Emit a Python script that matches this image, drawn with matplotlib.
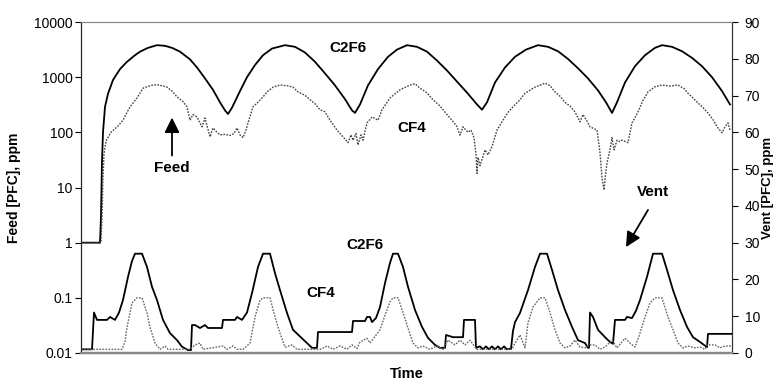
import matplotlib
matplotlib.use("Agg")
import matplotlib.pyplot as plt
from matplotlib.ticker import FixedLocator, FixedFormatter

plt.rcParams['font.family'] = ['Liberation Sans', 'DejaVu Sans']

# ---- Feed (left, log axis), ppm ----
feed_c2f6_t = [0, 19, 20, 21, 22, 24, 27, 32, 39, 46, 54, 59, 67, 76, 84, 91, 99, 109, 116, 124, 132, 139, 144, 147,
               151, 159, 166, 174, 182, 191, 204, 214, 224, 234, 244, 254, 264, 271, 274, 279, 287, 297, 307, 316,
               326, 336, 346, 356, 366, 376, 386, 396, 401, 406, 414, 424, 434, 445, 457, 467, 477, 487, 497, 507,
               517, 525, 531, 536, 544, 554, 564, 574, 581, 591, 601, 611, 621, 631, 641, 649]
feed_c2f6 = [1, 1, 3, 30, 100, 290, 500, 890, 1400, 1900, 2500, 2900, 3400, 3800, 3700, 3400, 2900, 2100, 1500, 950,
             590, 350, 250, 215, 280, 560, 1000, 1660, 2500, 3300, 3800, 3550, 2800, 1900, 1170, 710, 400, 250, 225,
             320, 710, 1400, 2340, 3160, 3800, 3550, 2900, 2000, 1320, 830, 525, 320, 257, 350, 800, 1500, 2340,
             3160, 3800, 3550, 2950, 2140, 1450, 950, 575, 350, 225, 350, 800, 1580, 2500, 3400, 3800, 3550, 2950,
             2240, 1580, 1000, 560, 320]

feed_cf4_t = [0, 20, 21, 22, 23, 25, 30, 37, 42, 46, 49, 56, 62, 67, 72, 76, 81, 86, 91, 96, 102, 106, 109, 112,
              116, 121, 124, 129, 132, 136, 139, 144, 149, 153, 156, 159, 162, 165, 167, 172, 177, 182, 187, 192,
              199, 206, 212, 217, 224, 229, 234, 239, 244, 249, 256, 262, 267, 270, 272, 275, 277, 280, 282, 286,
              291, 297, 301, 309, 319, 329, 334, 339, 346, 352, 359, 362, 366, 369, 373, 376, 379, 382, 387, 390,
              393, 395, 396, 397, 399, 401, 404, 407, 411, 416, 422, 427, 432, 439, 444, 454, 464, 469, 474, 479,
              484, 489, 494, 499, 502, 506, 509, 516, 519, 521, 523, 524, 526, 529, 531, 533, 536, 539, 541, 547,
              551, 557, 562, 567, 574, 581, 589, 597, 603, 607, 612, 617, 622, 627, 632, 636, 641, 644, 647, 649]
feed_cf4 = [1, 1, 3, 15, 40, 70, 100, 130, 166, 230, 290, 420, 630, 680, 720, 730, 700, 660, 560, 440, 360, 290,
            166, 210, 190, 126, 182, 83, 120, 100, 90, 92, 88, 95, 120, 90, 80, 110, 148, 290, 350, 440, 560, 660,
            720, 700, 660, 540, 470, 390, 330, 257, 235, 166, 110, 83, 65, 90, 72, 95, 59, 90, 72, 148, 190, 166,
            257, 420, 590, 720, 760, 630, 520, 390, 300, 257, 210, 182, 150, 126, 89, 126, 100, 110, 80, 40, 18,
            35, 25, 32, 48, 39, 55, 110, 166, 230, 290, 390, 510, 660, 780, 700, 540, 450, 350, 300, 234, 155,
            210, 160, 126, 110, 43, 15, 9, 14, 28, 48, 80, 48, 72, 68, 72, 65, 148, 234, 380, 540, 670, 720, 690,
            720, 620, 510, 420, 340, 280, 224, 170, 126, 98, 126, 148, 110]

# ---- Vent (right, linear axis), ppm ----
vent_c2f6_t = [0, 11, 13, 16, 26, 29, 34, 38, 42, 47, 51, 54, 61, 66, 71, 76, 82, 89, 96, 101, 107, 110, 111, 114,
               119, 124, 127, 141, 142, 154, 156, 161, 166, 171, 177, 182, 189, 194, 199, 206, 212, 219, 226, 231,
               236, 237, 271, 272, 284, 286, 289, 291, 295, 299, 304, 309, 312, 317, 322, 327, 334, 341, 347, 354,
               359, 364, 365, 372, 382, 383, 394, 395, 399, 402, 405, 408, 411, 414, 417, 420, 423, 426, 430, 432,
               434, 439, 447, 454, 459, 466, 471, 477, 484, 491, 497, 504, 507, 508, 509, 512, 517, 524, 529, 532,
               534, 544, 546, 551, 555, 559, 566, 572, 581, 586, 592, 599, 606, 612, 619, 626, 627, 651]
vent_c2f6 = [1, 1, 11, 9, 9, 9.8, 9, 11, 14.4, 20.7, 25, 27, 27, 23.4, 18, 14.4, 9, 5.4, 3.5, 1.7, 0.8, 0.8, 7.6,
             7.6, 6.8, 7.6, 6.8, 6.8, 9, 9, 9.8, 9, 11, 16.3, 23.4, 27, 27, 21.7, 17.1, 10.9, 6.3, 4.5, 2.7, 1.4,
             1.4, 5.7, 5.7, 8.7, 8.7, 9.8, 9.8, 8.4, 9.5, 12.5, 19, 24.5, 27, 27, 23.4, 18, 11.7, 7.1, 4.1, 2.2,
             1.4, 1.4, 4.9, 4.3, 4.3, 9, 9, 1.4, 1.8, 1.0, 1.8, 1.0, 1.8, 1.0, 1.8, 1.0, 1.8, 1.0, 1.2, 6, 8.4,
             10.9, 17.1, 23.4, 27, 27, 22.6, 17.1, 11.7, 7.1, 3.5, 2.7, 1.4, 1.4, 11, 9.8, 6.3, 4.3, 3, 2.5, 9,
             9, 9.8, 9.5, 11.5, 14.4, 20.7, 27, 27, 22.6, 17.1, 11.7, 7.1, 4.3, 3, 1.6, 5.2, 5.2]

vent_cf4_t = [0, 41, 44, 46, 51, 56, 61, 66, 69, 74, 79, 84, 87, 109, 114, 119, 122, 142, 146, 152, 156, 162, 169,
              174, 179, 182, 189, 194, 199, 204, 211, 216, 239, 246, 252, 259, 266, 271, 276, 279, 286, 289, 292,
              299, 304, 309, 312, 317, 322, 327, 332, 337, 342, 349, 356, 362, 367, 374, 379, 384, 389, 394, 396,
              431, 434, 439, 441, 444, 447, 452, 459, 464, 469, 474, 479, 484, 489, 494, 499, 504, 509, 514, 519,
              524, 531, 536, 544, 549, 554, 559, 564, 569, 574, 581, 587, 592, 597, 602, 607, 614, 619, 624, 626,
              634, 639, 644, 651]
vent_cf4 = [1, 1, 3, 7, 13.6, 15, 15, 10.9, 7, 2.7, 1, 1.9, 1, 1, 2.2, 2.7, 1, 1.9, 1, 1.9, 1, 1, 2.7, 9.8, 14.4,
            15, 15, 9.8, 5.4, 1.6, 2.2, 1, 1, 1.9, 1, 1.9, 1, 2.2, 1.2, 3, 4, 2.7, 3.8, 6.3, 10.3, 13.9, 15, 15,
            11, 6.8, 2.7, 1.4, 1.9, 1, 1.9, 1, 3.5, 2.2, 3.5, 2.2, 3.5, 1.6, 1, 1, 2.7, 4.9, 3.5, 1.4, 8.2, 12.5,
            15, 15, 11, 6.3, 2.7, 1.4, 1.9, 3.5, 1.6, 1.4, 2.2, 2.2, 1, 1.6, 3.5, 1.4, 4, 2.7, 1.6, 5.4, 9.8,
            13.6, 15, 15, 9.8, 6.3, 2.7, 1.4, 1.9, 1.4, 1.6, 1, 2.2, 2.2, 1.4, 1.9, 1.9]

left_ticks = [0.01, 0.1, 1, 10, 100, 1000, 10000]
left_tick_labels = ["0.01", "0.1", "1", "10", "100", "1000", "10000"]
right_ticks = [0, 10, 20, 30, 40, 50, 60, 70, 80, 90]

fig = plt.figure(figsize=(7.74, 3.80), dpi=100)
ax = fig.add_axes([81 / 774, 1 - 353 / 380, (732 - 81) / 774, (353 - 22) / 380])
ax2 = ax.twinx()

dot = (0, (1.2, 1.0))
ax.plot(feed_c2f6_t, feed_c2f6, color='black', lw=1.3)
ax.plot(feed_cf4_t, feed_cf4, color='#444444', lw=1.0, linestyle=dot)
ax2.plot(vent_c2f6_t, vent_c2f6, color='black', lw=1.3)
ax2.plot(vent_cf4_t, vent_cf4, color='#666666', lw=1.0, linestyle=dot)

ax.set_yscale('log')
ax.set_ylim(0.01, 10000)
ax.set_xlim(0, 651)
ax.yaxis.set_major_locator(FixedLocator(left_ticks))
ax.yaxis.set_major_formatter(FixedFormatter(left_tick_labels))
ax.yaxis.set_minor_locator(FixedLocator([]))
ax.set_xticks([])
ax2.set_ylim(0, 90)
ax2.set_yticks(right_ticks)

for a in (ax, ax2):
    a.tick_params(axis='y', direction='out', length=4, width=0.8, labelsize=10, colors='black')
ax.tick_params(axis='y', pad=2)
ax2.tick_params(axis='y', pad=5)

for a in (ax, ax2):
    a.spines['top'].set_color('#888888')
    a.spines['top'].set_linewidth(0.8)
    a.spines['bottom'].set_color('#888888')
    a.spines['bottom'].set_linewidth(1.6)
    a.spines['left'].set_color('#222222')
    a.spines['left'].set_linewidth(0.8)
    a.spines['right'].set_color('#333333')
    a.spines['right'].set_linewidth(0.8)

ax.set_xlabel('Time', fontsize=10.5, fontweight='bold', labelpad=10)
fig.text(14 / 774, 1 - 188 / 380, 'Feed [PFC], ppm', rotation=90, ha='center', va='center',
         fontsize=10, fontweight='bold')
fig.text(768 / 774, 1 - 188 / 380, 'Vent [PFC], ppm', rotation=90, ha='center', va='center',
         fontsize=9.5, fontweight='bold')

# labels
ax.text(267, 3400, 'C2F6', ha='center', va='center', fontsize=11, fontweight='bold')
ax.text(331, 120, 'CF4', ha='center', va='center', fontsize=11, fontweight='bold')
ax2.text(284, 29.3, 'C2F6', ha='center', va='center', fontsize=11, fontweight='bold')
ax2.text(240, 16.3, 'CF4', ha='center', va='center', fontsize=11, fontweight='bold')

# Feed annotation
ax.text(91, 23, 'Feed', ha='center', va='center', fontsize=11, fontweight='bold')
ax.annotate('', xy=(91, 185), xytext=(91, 38),
            arrowprops=dict(arrowstyle='-|>,head_length=0.9,head_width=0.45', lw=1.3, color='black',
                            shrinkA=0, shrinkB=0))
# Vent annotation
ax2.text(572, 43.8, 'Vent', ha='center', va='center', fontsize=11, fontweight='bold')
ax2.annotate('', xy=(545, 28.8), xytext=(567, 38.9),
             arrowprops=dict(arrowstyle='-|>,head_length=0.9,head_width=0.45', lw=1.3, color='black',
                             shrinkA=0, shrinkB=0))

fig.savefig('out.png', dpi=100)
